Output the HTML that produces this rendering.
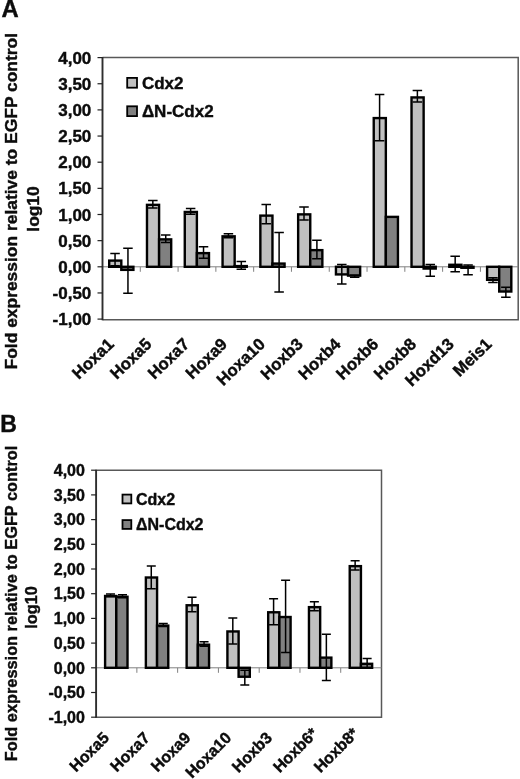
<!DOCTYPE html>
<html><head><meta charset="utf-8"><title>Figure</title>
<style>
html,body{margin:0;padding:0;background:#fff}
svg{display:block}
text{font-family:"Liberation Sans", sans-serif;font-weight:bold;fill:#0c0c0c;stroke:#0c0c0c;stroke-width:0.4px}
</style></head><body>
<svg width="520" height="779" viewBox="0 0 520 779">
<rect width="520" height="779" fill="#fff"/>
<path d="M102.5 57.5H518.2V319.8H102.5" fill="none" stroke="#585858" stroke-width="1.5"/>
<path d="M102.5 266.8H518.2" stroke="#808080" stroke-width="1"/>
<path d="M140.29 266.8v5" stroke="#808080" stroke-width="1"/>
<path d="M178.08 266.8v5" stroke="#808080" stroke-width="1"/>
<path d="M215.87 266.8v5" stroke="#808080" stroke-width="1"/>
<path d="M253.66 266.8v5" stroke="#808080" stroke-width="1"/>
<path d="M291.45 266.8v5" stroke="#808080" stroke-width="1"/>
<path d="M329.25 266.8v5" stroke="#808080" stroke-width="1"/>
<path d="M367.04 266.8v5" stroke="#808080" stroke-width="1"/>
<path d="M404.83 266.8v5" stroke="#808080" stroke-width="1"/>
<path d="M442.62 266.8v5" stroke="#808080" stroke-width="1"/>
<path d="M480.41 266.8v5" stroke="#808080" stroke-width="1"/>
<path d="M102.5 57.0V320.3" stroke="#2e2e2e" stroke-width="1.9"/>
<path d="M97.5 57.60H102.5" stroke="#222" stroke-width="1.2"/>
<text x="91.30" y="63.72" text-anchor="end" font-size="17">4,00</text>
<path d="M97.5 83.75H102.5" stroke="#222" stroke-width="1.2"/>
<text x="91.30" y="89.87" text-anchor="end" font-size="17">3,50</text>
<path d="M97.5 109.90H102.5" stroke="#222" stroke-width="1.2"/>
<text x="91.30" y="116.02" text-anchor="end" font-size="17">3,00</text>
<path d="M97.5 136.05H102.5" stroke="#222" stroke-width="1.2"/>
<text x="91.30" y="142.17" text-anchor="end" font-size="17">2,50</text>
<path d="M97.5 162.20H102.5" stroke="#222" stroke-width="1.2"/>
<text x="91.30" y="168.32" text-anchor="end" font-size="17">2,00</text>
<path d="M97.5 188.35H102.5" stroke="#222" stroke-width="1.2"/>
<text x="91.30" y="194.47" text-anchor="end" font-size="17">1,50</text>
<path d="M97.5 214.50H102.5" stroke="#222" stroke-width="1.2"/>
<text x="91.30" y="220.62" text-anchor="end" font-size="17">1,00</text>
<path d="M97.5 240.65H102.5" stroke="#222" stroke-width="1.2"/>
<text x="91.30" y="246.77" text-anchor="end" font-size="17">0,50</text>
<path d="M97.5 266.80H102.5" stroke="#222" stroke-width="1.2"/>
<text x="91.30" y="272.92" text-anchor="end" font-size="17">0,00</text>
<path d="M97.5 292.95H102.5" stroke="#222" stroke-width="1.2"/>
<text x="91.30" y="299.07" text-anchor="end" font-size="17">-0,50</text>
<path d="M97.5 319.10H102.5" stroke="#222" stroke-width="1.2"/>
<text x="91.30" y="325.22" text-anchor="end" font-size="17">-1,00</text>
<rect x="109.20" y="260.60" width="12.10" height="6.20" fill="#c0c0c0" stroke="#000" stroke-width="2.4"/>
<rect x="121.30" y="266.80" width="12.10" height="3.06" fill="#808080" stroke="#000" stroke-width="2.4"/>
<path d="M115.05 253.46V265.75M110.30 253.46h9.5M110.30 265.75h9.5" stroke="#000" stroke-width="1.5" fill="none"/>
<path d="M127.95 248.23V293.21M123.20 248.23h9.5M123.20 293.21h9.5" stroke="#000" stroke-width="1.5" fill="none"/>
<rect x="146.99" y="204.85" width="12.10" height="61.95" fill="#c0c0c0" stroke="#000" stroke-width="2.4"/>
<rect x="159.09" y="239.37" width="12.10" height="27.43" fill="#808080" stroke="#000" stroke-width="2.4"/>
<path d="M152.84 200.48V208.01M148.09 200.48h9.5M148.09 208.01h9.5" stroke="#000" stroke-width="1.5" fill="none"/>
<path d="M165.74 235.00V242.53M160.99 235.00h9.5M160.99 242.53h9.5" stroke="#000" stroke-width="1.5" fill="none"/>
<rect x="184.78" y="211.96" width="12.10" height="54.84" fill="#c0c0c0" stroke="#000" stroke-width="2.4"/>
<rect x="196.88" y="253.12" width="12.10" height="13.68" fill="#808080" stroke="#000" stroke-width="2.4"/>
<path d="M190.63 208.49V214.24M185.88 208.49h9.5M185.88 214.24h9.5" stroke="#000" stroke-width="1.5" fill="none"/>
<path d="M203.53 246.77V258.28M198.78 246.77h9.5M198.78 258.28h9.5" stroke="#000" stroke-width="1.5" fill="none"/>
<rect x="222.57" y="236.33" width="12.10" height="30.47" fill="#c0c0c0" stroke="#000" stroke-width="2.4"/>
<rect x="234.67" y="266.09" width="12.10" height="0.71" fill="#808080" stroke="#000" stroke-width="2.4"/>
<path d="M228.42 233.64V237.83M223.67 233.64h9.5M223.67 237.83h9.5" stroke="#000" stroke-width="1.5" fill="none"/>
<path d="M241.32 261.57V269.26M236.57 261.57h9.5M236.57 269.26h9.5" stroke="#000" stroke-width="1.5" fill="none"/>
<rect x="260.36" y="215.62" width="12.10" height="51.18" fill="#c0c0c0" stroke="#000" stroke-width="2.4"/>
<rect x="272.46" y="263.58" width="12.10" height="3.22" fill="#808080" stroke="#000" stroke-width="2.4"/>
<path d="M266.21 204.56V223.76M261.46 204.56h9.5M261.46 223.76h9.5" stroke="#000" stroke-width="1.5" fill="none"/>
<path d="M279.11 232.49V292.01M274.36 232.49h9.5M274.36 292.01h9.5" stroke="#000" stroke-width="1.5" fill="none"/>
<rect x="298.15" y="214.37" width="12.10" height="52.43" fill="#c0c0c0" stroke="#000" stroke-width="2.4"/>
<rect x="310.25" y="250.14" width="12.10" height="16.66" fill="#808080" stroke="#000" stroke-width="2.4"/>
<path d="M304.00 207.02V219.99M299.25 207.02h9.5M299.25 219.99h9.5" stroke="#000" stroke-width="1.5" fill="none"/>
<path d="M316.90 240.23V258.75M312.15 240.23h9.5M312.15 258.75h9.5" stroke="#000" stroke-width="1.5" fill="none"/>
<rect x="335.95" y="266.80" width="12.10" height="7.61" fill="#c0c0c0" stroke="#000" stroke-width="2.4"/>
<rect x="348.05" y="266.80" width="12.10" height="8.81" fill="#808080" stroke="#000" stroke-width="2.4"/>
<path d="M341.80 264.50V284.06M337.05 264.50h9.5M337.05 284.06h9.5" stroke="#000" stroke-width="1.5" fill="none"/>
<path d="M354.70 275.17V277.26M349.95 275.17h9.5M349.95 277.26h9.5" stroke="#000" stroke-width="1.5" fill="none"/>
<rect x="373.74" y="118.08" width="12.10" height="148.72" fill="#c0c0c0" stroke="#000" stroke-width="2.4"/>
<rect x="385.84" y="216.88" width="12.10" height="49.92" fill="#808080" stroke="#000" stroke-width="2.4"/>
<path d="M379.59 94.52V140.76M374.84 94.52h9.5M374.84 140.76h9.5" stroke="#000" stroke-width="1.5" fill="none"/>
<rect x="411.53" y="97.43" width="12.10" height="169.38" fill="#c0c0c0" stroke="#000" stroke-width="2.4"/>
<rect x="423.63" y="266.80" width="12.10" height="1.75" fill="#808080" stroke="#000" stroke-width="2.4"/>
<path d="M417.38 90.55V102.06M412.63 90.55h9.5M412.63 102.06h9.5" stroke="#000" stroke-width="1.5" fill="none"/>
<path d="M430.28 264.50V276.21M425.53 264.50h9.5M425.53 276.21h9.5" stroke="#000" stroke-width="1.5" fill="none"/>
<rect x="449.32" y="264.79" width="12.10" height="2.02" fill="#c0c0c0" stroke="#000" stroke-width="2.4"/>
<rect x="461.42" y="266.80" width="12.10" height="0.97" fill="#808080" stroke="#000" stroke-width="2.4"/>
<path d="M455.17 256.34V271.72M450.42 256.34h9.5M450.42 271.72h9.5" stroke="#000" stroke-width="1.5" fill="none"/>
<path d="M468.07 265.02V274.80M463.32 265.02h9.5M463.32 274.80h9.5" stroke="#000" stroke-width="1.5" fill="none"/>
<rect x="487.11" y="266.80" width="12.10" height="13.00" fill="#c0c0c0" stroke="#000" stroke-width="2.4"/>
<rect x="499.21" y="266.80" width="12.10" height="24.71" fill="#808080" stroke="#000" stroke-width="2.4"/>
<path d="M492.96 277.68V282.49M488.21 277.68h9.5M488.21 282.49h9.5" stroke="#000" stroke-width="1.5" fill="none"/>
<path d="M505.86 287.30V297.29M501.11 287.30h9.5M501.11 297.29h9.5" stroke="#000" stroke-width="1.5" fill="none"/>
<text transform="translate(114.90 345.30) rotate(-44)" text-anchor="end" font-size="16.7">Hoxa1</text>
<text transform="translate(152.69 345.30) rotate(-44)" text-anchor="end" font-size="16.7">Hoxa5</text>
<text transform="translate(190.48 345.30) rotate(-44)" text-anchor="end" font-size="16.7">Hoxa7</text>
<text transform="translate(228.27 345.30) rotate(-44)" text-anchor="end" font-size="16.7">Hoxa9</text>
<text transform="translate(266.06 345.30) rotate(-44)" text-anchor="end" font-size="16.7">Hoxa10</text>
<text transform="translate(303.85 345.30) rotate(-44)" text-anchor="end" font-size="16.7">Hoxb3</text>
<text transform="translate(341.64 345.30) rotate(-44)" text-anchor="end" font-size="16.7">Hoxb4</text>
<text transform="translate(379.43 345.30) rotate(-44)" text-anchor="end" font-size="16.7">Hoxb6</text>
<text transform="translate(417.22 345.30) rotate(-44)" text-anchor="end" font-size="16.7">Hoxb8</text>
<text transform="translate(455.01 345.30) rotate(-44)" text-anchor="end" font-size="16.7">Hoxd13</text>
<text transform="translate(492.80 345.30) rotate(-44)" text-anchor="end" font-size="16.7">Meis1</text>
<rect x="127.20" y="77.90" width="9.80" height="9.80" fill="#c0c0c0" stroke="#000" stroke-width="1.8"/>
<text x="141.9" y="88.92" font-size="17">Cdx2</text>
<rect x="127.20" y="106.30" width="9.80" height="9.80" fill="#808080" stroke="#000" stroke-width="1.8"/>
<text x="141.9" y="117.32" font-size="17">ΔN-Cdx2</text>
<text transform="translate(16.8 201.2) rotate(-90)" text-anchor="middle" font-size="17.4" textLength="336.5" lengthAdjust="spacingAndGlyphs">Fold expression relative to EGFP control</text>
<text transform="translate(38.6 209) rotate(-90)" text-anchor="middle" font-size="17.4">log10</text>
<text x="1.6" y="17.2" font-size="23.8">A</text>
<path d="M96.1 470.25H381.5V717.3H96.1" fill="none" stroke="#585858" stroke-width="1.5"/>
<path d="M96.1 667.8H381.5" stroke="#808080" stroke-width="1"/>
<path d="M136.87 667.8v5" stroke="#808080" stroke-width="1"/>
<path d="M177.64 667.8v5" stroke="#808080" stroke-width="1"/>
<path d="M218.41 667.8v5" stroke="#808080" stroke-width="1"/>
<path d="M259.19 667.8v5" stroke="#808080" stroke-width="1"/>
<path d="M299.96 667.8v5" stroke="#808080" stroke-width="1"/>
<path d="M340.73 667.8v5" stroke="#808080" stroke-width="1"/>
<path d="M96.1 469.75V717.8" stroke="#2e2e2e" stroke-width="1.9"/>
<path d="M91.1 470.20H96.1" stroke="#222" stroke-width="1.2"/>
<text x="84.90" y="475.96" text-anchor="end" font-size="16">4,00</text>
<path d="M91.1 494.90H96.1" stroke="#222" stroke-width="1.2"/>
<text x="84.90" y="500.66" text-anchor="end" font-size="16">3,50</text>
<path d="M91.1 519.60H96.1" stroke="#222" stroke-width="1.2"/>
<text x="84.90" y="525.36" text-anchor="end" font-size="16">3,00</text>
<path d="M91.1 544.30H96.1" stroke="#222" stroke-width="1.2"/>
<text x="84.90" y="550.06" text-anchor="end" font-size="16">2,50</text>
<path d="M91.1 569.00H96.1" stroke="#222" stroke-width="1.2"/>
<text x="84.90" y="574.76" text-anchor="end" font-size="16">2,00</text>
<path d="M91.1 593.70H96.1" stroke="#222" stroke-width="1.2"/>
<text x="84.90" y="599.46" text-anchor="end" font-size="16">1,50</text>
<path d="M91.1 618.40H96.1" stroke="#222" stroke-width="1.2"/>
<text x="84.90" y="624.16" text-anchor="end" font-size="16">1,00</text>
<path d="M91.1 643.10H96.1" stroke="#222" stroke-width="1.2"/>
<text x="84.90" y="648.86" text-anchor="end" font-size="16">0,50</text>
<path d="M91.1 667.80H96.1" stroke="#222" stroke-width="1.2"/>
<text x="84.90" y="673.56" text-anchor="end" font-size="16">0,00</text>
<path d="M91.1 692.50H96.1" stroke="#222" stroke-width="1.2"/>
<text x="84.90" y="698.26" text-anchor="end" font-size="16">-0,50</text>
<path d="M91.1 717.20H96.1" stroke="#222" stroke-width="1.2"/>
<text x="84.90" y="722.96" text-anchor="end" font-size="16">-1,00</text>
<rect x="105.10" y="595.98" width="11.20" height="71.82" fill="#c0c0c0" stroke="#000" stroke-width="2.4"/>
<rect x="116.30" y="596.77" width="11.20" height="71.03" fill="#808080" stroke="#000" stroke-width="2.4"/>
<path d="M110.50 593.90V596.86M106.00 593.90h9M106.00 596.86h9" stroke="#000" stroke-width="1.5" fill="none"/>
<path d="M122.50 594.69V597.65M118.00 594.69h9M118.00 597.65h9" stroke="#000" stroke-width="1.5" fill="none"/>
<rect x="145.87" y="577.50" width="11.20" height="90.30" fill="#c0c0c0" stroke="#000" stroke-width="2.4"/>
<rect x="157.07" y="625.62" width="11.20" height="42.18" fill="#808080" stroke="#000" stroke-width="2.4"/>
<path d="M151.27 566.04V588.76M146.77 566.04h9M146.77 588.76h9" stroke="#000" stroke-width="1.5" fill="none"/>
<path d="M163.27 623.54V626.50M158.77 623.54h9M158.77 626.50h9" stroke="#000" stroke-width="1.5" fill="none"/>
<rect x="186.64" y="605.27" width="11.20" height="62.53" fill="#c0c0c0" stroke="#000" stroke-width="2.4"/>
<rect x="197.84" y="644.69" width="11.20" height="23.11" fill="#808080" stroke="#000" stroke-width="2.4"/>
<path d="M192.04 597.16V611.73M187.54 597.16h9M187.54 611.73h9" stroke="#000" stroke-width="1.5" fill="none"/>
<path d="M204.04 641.87V646.31M199.54 641.87h9M199.54 646.31h9" stroke="#000" stroke-width="1.5" fill="none"/>
<rect x="227.41" y="631.45" width="11.20" height="36.35" fill="#c0c0c0" stroke="#000" stroke-width="2.4"/>
<rect x="238.61" y="667.80" width="11.20" height="8.93" fill="#808080" stroke="#000" stroke-width="2.4"/>
<path d="M232.81 617.91V644.09M228.31 617.91h9M228.31 644.09h9" stroke="#000" stroke-width="1.5" fill="none"/>
<path d="M244.81 670.27V685.09M240.31 670.27h9M240.31 685.09h9" stroke="#000" stroke-width="1.5" fill="none"/>
<rect x="268.19" y="612.28" width="11.20" height="55.52" fill="#c0c0c0" stroke="#000" stroke-width="2.4"/>
<rect x="279.39" y="617.02" width="11.20" height="50.78" fill="#808080" stroke="#000" stroke-width="2.4"/>
<path d="M273.59 598.64V624.67M269.09 598.64h9M269.09 624.67h9" stroke="#000" stroke-width="1.5" fill="none"/>
<path d="M285.59 580.36V652.49M281.09 580.36h9M281.09 652.49h9" stroke="#000" stroke-width="1.5" fill="none"/>
<rect x="308.96" y="607.14" width="11.20" height="60.66" fill="#c0c0c0" stroke="#000" stroke-width="2.4"/>
<rect x="320.16" y="657.63" width="11.20" height="10.17" fill="#808080" stroke="#000" stroke-width="2.4"/>
<path d="M314.36 601.85V610.79M309.86 601.85h9M309.86 610.79h9" stroke="#000" stroke-width="1.5" fill="none"/>
<path d="M326.36 634.21V680.50M321.86 634.21h9M321.86 680.50h9" stroke="#000" stroke-width="1.5" fill="none"/>
<rect x="349.73" y="566.14" width="11.20" height="101.66" fill="#c0c0c0" stroke="#000" stroke-width="2.4"/>
<rect x="360.93" y="663.81" width="11.20" height="3.99" fill="#808080" stroke="#000" stroke-width="2.4"/>
<path d="M355.13 560.85V569.99M350.63 560.85h9M350.63 569.99h9" stroke="#000" stroke-width="1.5" fill="none"/>
<path d="M367.13 658.56V667.80M362.63 658.56h9M362.63 667.80h9" stroke="#000" stroke-width="1.5" fill="none"/>
<text transform="translate(109.99 738.80) rotate(-45)" text-anchor="end" font-size="16">Hoxa5</text>
<text transform="translate(150.76 738.80) rotate(-45)" text-anchor="end" font-size="16">Hoxa7</text>
<text transform="translate(191.53 738.80) rotate(-45)" text-anchor="end" font-size="16">Hoxa9</text>
<text transform="translate(232.30 738.80) rotate(-45)" text-anchor="end" font-size="16">Hoxa10</text>
<text transform="translate(273.07 738.80) rotate(-45)" text-anchor="end" font-size="16">Hoxb3</text>
<text transform="translate(318.64 734.60) rotate(-45)" text-anchor="end" font-size="16">Hoxb6*</text>
<text transform="translate(359.41 734.60) rotate(-45)" text-anchor="end" font-size="16">Hoxb8*</text>
<rect x="122.50" y="494.60" width="8.80" height="8.80" fill="#c0c0c0" stroke="#000" stroke-width="1.8"/>
<text x="136.0" y="504.76" font-size="16">Cdx2</text>
<rect x="122.50" y="520.10" width="8.80" height="8.80" fill="#808080" stroke="#000" stroke-width="1.8"/>
<text x="136.0" y="530.26" font-size="16">ΔN-Cdx2</text>
<text transform="translate(16.5 603.4) rotate(-90)" text-anchor="middle" font-size="16.3" textLength="315.5" lengthAdjust="spacingAndGlyphs">Fold expression relative to EGFP control</text>
<text transform="translate(36.6 607.5) rotate(-90)" text-anchor="middle" font-size="16.3">log10</text>
<text x="0.3" y="432" font-size="23">B</text>
</svg>
</body></html>
